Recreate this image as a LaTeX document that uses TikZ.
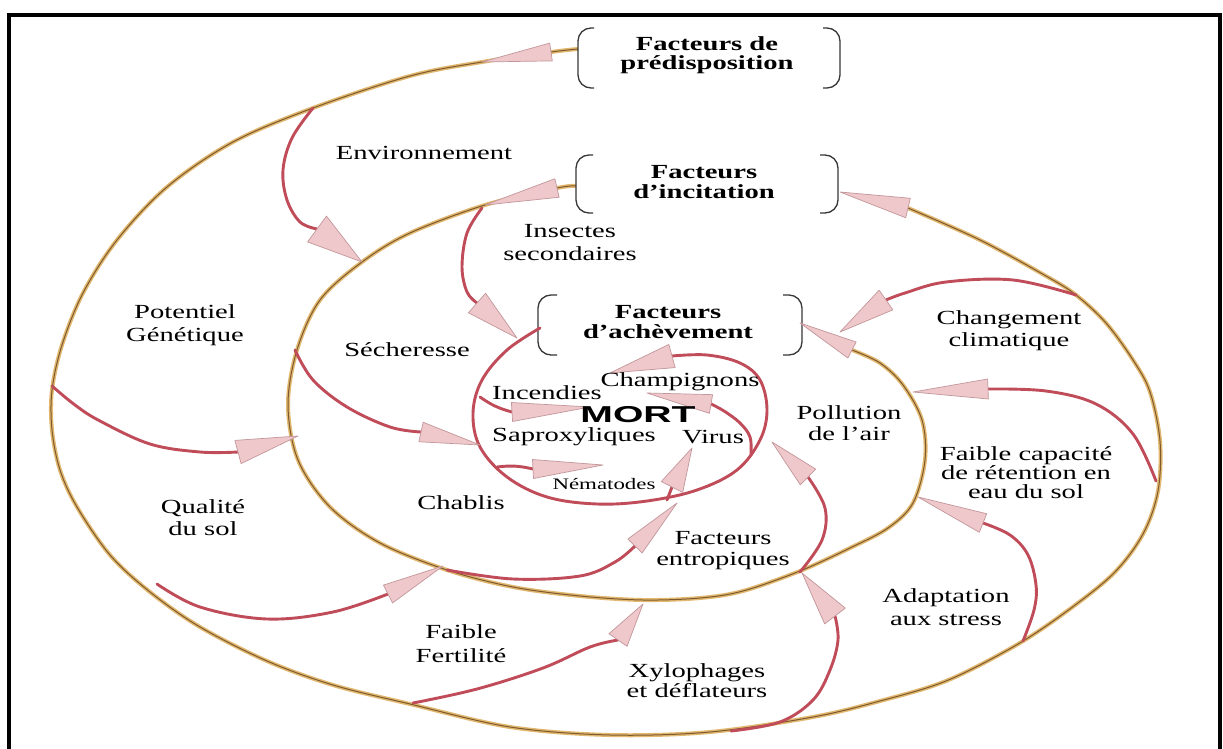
\documentclass[tikz,border=0pt]{standalone}
\usepackage{fontspec}
\setmainfont{Liberation Serif}
\newfontfamily\mortfont{Liberation Sans}
\usepackage{graphicx}
\usetikzlibrary{calc}
\definecolor{tanlt}{RGB}{226,184,112}
\definecolor{tandk}{RGB}{125,90,45}
\definecolor{redarc}{RGB}{192,76,90}
\definecolor{trifill}{RGB}{238,200,202}
\definecolor{triedge}{RGB}{195,150,155}
\definecolor{brk}{RGB}{55,55,55}
\newcommand\wideT[1]{\scalebox{1.43}[1]{#1}}
\newcommand\arrtri[3]{\filldraw[tri] ($(#1)!#3!90:(#2)$) -- (#2) -- ($(#1)!#3!-90:(#2)$) -- cycle;}
\tikzset{
  tanline/.style={draw=tanlt, double=tandk, double distance=1pt, line width=1.5pt},
  redline/.style={line width=2.9pt, draw=redarc, line cap=round},
  tri/.style={fill=trifill, draw=triedge, line width=0.7pt, line join=round},
  brack/.style={line width=1.3pt, draw=brk, rounded corners=13pt},
  lbl/.style={inner sep=0pt, align=center, text=black, font=\fontsize{20}{23}\selectfont},
  ttl/.style={inner sep=0pt, align=center, text=black, font=\fontsize{20}{19.5}\selectfont\bfseries},
}
\begin{document}
\begin{tikzpicture}[x=1pt,y=-1pt]
\useasboundingbox (0,0) rectangle (1223,749);
\fill[white] (0,0) rectangle (1223,749);

% ---------- tan spirals ----------
\draw[tanline] plot[smooth,tension=.55] coordinates {(578,49) (551,52) (482,62) (410,76) (313,108) (233,142) (167,187) (117,240) (83,293) (62,345) (52,390) (52,430) (60,470) (77,507) (110,555) (150,592) (200,627) (267,661) (333,685) (410,704) (510,727) (610,735) (710,732) (813,717) (880,701) (946,681) (1013,647) (1063,614) (1113,574) (1143,534) (1158,491) (1160,441) (1150,392) (1133,360) (1106,323) (1076,295) (1046,276) (980,240) (908,208)};
\draw[tanline] plot[smooth,tension=.55] coordinates {(576,186) (557,188) (485,205) (410,233) (362,262) (320,300) (297,350) (288,405) (298,460) (330,507) (380,543) (447,570) (513,587) (580,596) (643,600) (700,598) (743,591) (800,571) (850,548) (888,528) (913,503) (925,460) (922,420) (903,385) (880,363) (852,350)};

% ---------- brackets ----------
\draw[brack] (594,28) -- (578,28) -- (578,88) -- (594,88);
\draw[brack] (823,28) -- (840,28) -- (840,88) -- (823,88);
\draw[brack] (593,155) -- (576,155) -- (576,213) -- (593,213);
\draw[brack] (820,155) -- (838,155) -- (838,213) -- (820,213);
\draw[brack] (557,295) -- (538,295) -- (538,355) -- (557,355);
\draw[brack] (783,295) -- (802,295) -- (802,355) -- (783,355);

% ---------- red arcs ----------
\draw[redline] plot[smooth,tension=.6] coordinates {(540,328) (507,350) (482,380) (473,413) (480,447) (507,477) (547,497) (597,504) (647,501) (697,490) (737,470) (760,440) (767,410) (760,380) (740,363) (707,355) (672,356)};
\draw[redline] plot[smooth,tension=.6] coordinates {(751,455) (750,437) (740,423) (724,411) (711,404)};
\draw[redline] plot[smooth,tension=.6] coordinates {(313,108) (292,138) (283,170) (287,200) (300,222) (317,229)};
\draw[redline] plot[smooth,tension=.6] coordinates {(482,208) (467,233) (462,267) (467,292) (477,303)};
\draw[redline] plot[smooth,tension=.6] coordinates {(52,386) (75,405) (100,421) (150,444) (200,452) (238,452)};
\draw[redline] plot[smooth,tension=.6] coordinates {(295,350) (313,380) (347,407) (390,427) (421,432)};
\draw[redline] plot[smooth,tension=.6] coordinates {(157,584) (200,607) (267,619) (333,612) (388,594)};
\draw[redline] plot[smooth,tension=.6] coordinates {(447,570) (513,579) (580,576) (615,562) (635,546)};
\draw[redline] plot[smooth,tension=.6] coordinates {(413,703) (477,689) (543,668) (590,647) (618,640)};
\draw[redline] plot[smooth,tension=.6] coordinates {(731,731) (780,722) (813,700) (830,670) (838,640) (835,616)};
\draw[redline] plot[smooth,tension=.6] coordinates {(800,572) (822,540) (825,508) (808,477)};
\draw[redline] plot[smooth,tension=.6] coordinates {(1023,641) (1034,610) (1036,585) (1028,555) (1010,535) (983,523)};
\draw[redline] plot[smooth,tension=.6] coordinates {(1156,481) (1133,434) (1096,404) (1046,391) (988,389)};
\draw[redline] plot[smooth,tension=.6] coordinates {(1076,295) (1013,280) (946,282) (905,293) (886,300)};
\draw[redline] (480,397) to[bend right=10] (512,412);
\draw[redline] (497,467) to[bend left=10] (533,469);
\draw[redline] (667,500) -- (672,487);

% ---------- arrow heads ----------
\coordinate (pB) at (551,52);  \coordinate (pT) at (482,62);
\coordinate (iB) at (908,208); \coordinate (iT) at (840,192);
\coordinate (sB) at (557,188); \coordinate (sT) at (485,205);
\coordinate (aB) at (852,350); \coordinate (aT) at (800,323);
\arrtri{pB}{pT}{9pt}
\arrtri{iB}{iT}{10pt}
\arrtri{sB}{sT}{9.5pt}
\arrtri{aB}{aT}{9pt}
\coordinate (envB) at (317,229); \coordinate (envT) at (362,262);
\coordinate (insB) at (477,303); \coordinate (insT) at (517,338);
\coordinate (quaB) at (238,452); \coordinate (quaT) at (298,436);
\coordinate (secB) at (421,432); \coordinate (secT) at (480,445);
\coordinate (ffB) at (388,594);  \coordinate (ffT) at (443,566);
\coordinate (chaB) at (635,546); \coordinate (chaT) at (677,503);
\coordinate (lowB) at (618,640); \coordinate (lowT) at (643,604);
\coordinate (xyB) at (835,616);  \coordinate (xyT) at (802,573);
\coordinate (polB) at (808,477); \coordinate (polT) at (772,442);
\coordinate (adB) at (983,523);  \coordinate (adT) at (918,497);
\coordinate (fcB) at (988,389);  \coordinate (fcT) at (913,392);
\coordinate (chgB) at (886,300); \coordinate (chgT) at (840,332);
\coordinate (achB) at (672,356); \coordinate (achT) at (610,373);
\coordinate (chpB) at (711,404); \coordinate (chpT) at (647,393);
\coordinate (incB) at (512,412); \coordinate (incT) at (590,407);
\coordinate (nemB) at (533,469); \coordinate (nemT) at (603,465);
\coordinate (virB) at (672,487); \coordinate (virT) at (692,448);
\arrtri{envB}{envT}{16pt}
\arrtri{insB}{insT}{13pt}
\arrtri{quaB}{quaT}{12pt}
\arrtri{secB}{secT}{10pt}
\arrtri{ffB}{ffT}{10pt}
\arrtri{chaB}{chaT}{10pt}
\arrtri{lowB}{lowT}{11pt}
\arrtri{xyB}{xyT}{13pt}
\arrtri{polB}{polT}{11pt}
\arrtri{adB}{adT}{10pt}
\arrtri{fcB}{fcT}{10pt}
\arrtri{chgB}{chgT}{12pt}
\arrtri{achB}{achT}{12pt}
\arrtri{chpB}{chpT}{9.5pt}
\arrtri{incB}{incT}{9.5pt}
\arrtri{nemB}{nemT}{9.5pt}
\arrtri{virB}{virT}{12pt}

% ---------- titles ----------
\node[ttl] (tpred) at (707,55) {\wideT{Facteurs de}\\\wideT{prédisposition}};
\node[ttl] (tinc) at (704,182) {\wideT{Facteurs}\\\wideT{d'incitation}};
\node[ttl] (tach) at (668,322) {\wideT{Facteurs}\\\wideT{d'achèvement}};

% ---------- labels ----------
\node[lbl] (lenv) at (424,153) {\wideT{Environnement}};
\node[lbl] (lins) at (570,243) {\wideT{Insectes}\\\wideT{secondaires}};
\node[lbl] (lpot) at (185,325) {\wideT{Potentiel}\\\wideT{Génétique}};
\node[lbl] (lsec) at (407,350) {\wideT{Sécheresse}};
\node[lbl, font=\fontsize{20}{22}\selectfont] (lchg) at (1009,331) {\wideT{Changement}\\\wideT{climatique}};
\node[lbl] (linc) at (547,393) {\wideT{Incendies}};
\node[lbl] (lchp) at (680,382) {\wideT{Champignons}};
\node (lmort) at (638,415) {\scalebox{1.7}[1]{\fontsize{23}{25}\selectfont\mortfont\bfseries MORT}};
\node[lbl, font=\fontsize{20}{21}\selectfont] (lpol) at (849,423) {\wideT{Pollution}\\\wideT{de l'air}};
\node[lbl] (lsap) at (574,437) {\wideT{Saproxyliques}};
\node[lbl] (lvir) at (713,437) {\wideT{Virus}};
\node[lbl, font=\fontsize{20}{19}\selectfont] (lfcap) at (1026,473) {\wideT{Faible capacité}\\\wideT{de rétention en}\\\wideT{eau du sol}};
\node[lbl, font=\fontsize{16}{18}\selectfont] (lnem) at (604,484) {\wideT{Nématodes}};
\node[lbl, font=\fontsize{20}{22}\selectfont] (lqua) at (203,518) {\wideT{Qualité}\\\wideT{du sol}};
\node[lbl] (lcha) at (461,503) {\wideT{Chablis}};
\node[lbl, font=\fontsize{20}{21}\selectfont] (lent) at (723,551) {\wideT{Facteurs}\\\wideT{entropiques}};
\node[lbl] (lada) at (946,607) {\wideT{Adaptation}\\\wideT{aux stress}};
\node[lbl, font=\fontsize{20}{24}\selectfont] (lfer) at (461,644) {\wideT{Faible}\\\wideT{Fertilité}};
\node[lbl, font=\fontsize{20}{20}\selectfont] (lxyl) at (697,681) {\wideT{Xylophages}\\\wideT{et déflateurs}};

% ---------- frame ----------
\draw[line width=4pt] (9,770) -- (9,15) -- (1220,15) -- (1220,770);
\end{tikzpicture}
\end{document}
